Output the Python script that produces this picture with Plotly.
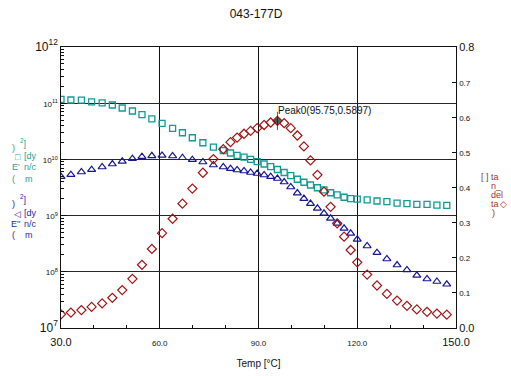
import plotly.graph_objects as go

# ---------------- data ----------------
temps = [30.0, 33.0, 36.2, 39.3, 42.5, 45.6, 48.6, 51.7, 54.6, 57.6, 60.7, 63.9, 66.9, 69.9, 73.1, 76.3, 79.3,
         81.5, 83.5, 85.6, 87.6, 89.6, 91.7, 93.7, 95.75, 97.8, 99.8, 101.8, 103.8, 105.8, 107.9, 109.9, 111.9,
         113.9, 116.0, 118.0, 120.0,
         123.0, 126.0, 129.0, 132.1, 135.1, 138.1, 141.2, 144.2, 147.2]

e_storage = [1.17e11, 1.14e11, 1.13e11, 1.06e11, 1.01e11, 9.29e10, 8.22e10, 7.27e10, 6.24e10, 5.24e10, 4.39e10,
             3.57e10, 2.98e10, 2.43e10, 1.98e10, 1.66e10, 1.44e10,
             1.30e10, 1.18e10, 1.10e10, 1.00e10, 9.10e9, 8.28e9, 7.41e9, 6.61e9, 5.85e9, 5.13e9, 4.43e9, 3.92e9,
             3.50e9, 3.13e9, 2.86e9, 2.55e9, 2.33e9, 2.12e9, 2.00e9, 1.97e9,
             1.90e9, 1.82e9, 1.77e9, 1.67e9, 1.63e9, 1.59e9, 1.59e9, 1.54e9, 1.52e9]

e_loss = [4.92e9, 5.34e9, 5.97e9, 6.56e9, 7.33e9, 8.28e9, 9.25e9, 1.03e10, 1.12e10, 1.16e10, 1.18e10, 1.15e10,
          1.07e10, 9.88e9, 8.99e9, 7.95e9, 7.33e9,
          6.83e9, 6.48e9, 6.22e9, 5.85e9, 5.61e9, 5.28e9, 4.92e9, 4.57e9, 3.96e9, 3.23e9, 2.52e9, 2.01e9,
          1.64e9, 1.35e9, 1.10e9, 8.95e8, 7.29e8, 5.94e8, 4.84e8, 3.79e8,
          2.88e8, 2.19e8, 1.69e8, 1.32e8, 1.08e8, 8.66e7, 7.45e7, 6.72e7, 6.00e7]

tan_delta = [0.039, 0.044, 0.051, 0.060, 0.070, 0.086, 0.108, 0.140, 0.180, 0.225, 0.270, 0.311, 0.354, 0.397,
             0.442, 0.481, 0.509,
             0.529, 0.542, 0.553, 0.561, 0.569, 0.578, 0.585, 0.5897, 0.583, 0.569, 0.548, 0.517, 0.477, 0.436,
             0.388, 0.345, 0.298, 0.260, 0.222, 0.187,
             0.152, 0.121, 0.097, 0.078, 0.063, 0.053, 0.046, 0.041, 0.038]

x_ticks = [30, 60, 90, 120, 150]
y_exps = [7, 8, 9, 10, 11, 12]
y2_ticks = [0.0, 0.1, 0.2, 0.3, 0.4, 0.5, 0.6, 0.7, 0.8]
title_text = "043-177D"
x_title = "Temp [°C]"

# ---------------- style ----------------
TEAL = "#139a95"
NAVY = "#16168e"
RED = "#a01414"
TEAL_T = "#2f9c98"
NAVY_T = "#2a2a9c"
RED_T = "#a03434"
INK = "#111111"
FONT = "Arial, Liberation Sans, sans-serif"

W, H = 511, 376
L, R, T, B = 61, 456, 47, 328


def px(x, y):
    return (x - L) / (R - L), (B - y) / (B - T)


def sized(txt, s):
    return f'<span style="font-size:{s}px">{txt}</span>'


fig = go.Figure()

fig.add_trace(go.Scatter(x=temps, y=e_storage, mode="markers", name="E'",
                         marker=dict(symbol="square-open", size=6, color=TEAL, line=dict(width=1.3, color=TEAL))))
fig.add_trace(go.Scatter(x=temps, y=e_loss, mode="markers", name="E''",
                         marker=dict(symbol="triangle-up-open", size=7, color=NAVY, line=dict(width=1.2, color=NAVY))))
fig.add_trace(go.Scatter(x=temps, y=tan_delta, mode="markers", name="tan_delta", yaxis="y2",
                         marker=dict(symbol="diamond-open", size=7, color=RED, line=dict(width=1.2, color=RED))))

# peak marker
pk = max(range(len(tan_delta)), key=lambda i: tan_delta[i])
pkx, pky = temps[pk], tan_delta[pk]
fig.add_trace(go.Scatter(x=[pkx, pkx], y=[pky, pky], mode="markers", yaxis="y2",
                         marker=dict(symbol=["line-ns-open", "diamond"], size=[13, 5], color=INK,
                                     line=dict(width=1, color=INK))))

xt = [sized(f"{v:.1f}", 11 if v in (x_ticks[0], x_ticks[-1]) else 8) for v in x_ticks]
yt = [sized(f"10<sup>{e}</sup>", 12 if e in (y_exps[0], y_exps[-1]) else 8) for e in y_exps]
y2t = [sized(f"{v:.1f}", 11 if v in (y2_ticks[0], y2_ticks[-1]) else 8) for v in y2_ticks]

fig.update_layout(
    width=W, height=H,
    margin=dict(l=L, r=W - R, t=T, b=H - B, pad=0),
    paper_bgcolor="white", plot_bgcolor="white",
    showlegend=False,
    font=dict(family=FONT, size=10, color=INK),
    title=dict(text=title_text, x=256 / W, xanchor="center", y=1 - 14 / H, yanchor="middle",
               font=dict(size=12, color=INK)),
    xaxis=dict(range=[30, 150], tickvals=x_ticks, ticktext=xt, showgrid=True, gridcolor=INK, gridwidth=1,
               zeroline=False, showline=True, linecolor=INK, linewidth=1.3, mirror=True, automargin=False,
               ticks="inside", ticklen=5, tickcolor=INK, ticklabelstandoff=5,
               tickfont=dict(size=10, color=INK),
               minor=dict(dtick=10, ticks="inside", ticklen=3, tickcolor=INK, showgrid=False),
               title=dict(text=x_title, font=dict(size=10, color=INK), standoff=12)),
    yaxis=dict(type="log", range=[7, 12], tickvals=[10 ** e for e in y_exps], ticktext=yt,
               showgrid=True, gridcolor="#262626", gridwidth=1, zeroline=False, automargin=False,
               showline=True, linecolor=INK, linewidth=1.3, mirror=True,
               ticks="inside", ticklen=6, tickcolor=INK, tickfont=dict(size=10, color=INK),
               minor=dict(dtick="D1", ticks="inside", ticklen=3, tickcolor=INK, showgrid=False)),
    yaxis2=dict(range=[0, 0.8], overlaying="y", side="right", tickvals=y2_ticks, ticktext=y2t,
                showgrid=False, zeroline=False, showline=True, linecolor=INK, linewidth=1.3, automargin=False,
                ticks="inside", ticklen=4, tickcolor=INK, tickfont=dict(size=10, color=INK)),
)

fig.add_annotation(x=pkx, y=pky, xref="x", yref="y2", text=f"Peak0({pkx:.2f},{pky:.4f})",
                   showarrow=False, xanchor="left", yanchor="bottom", xshift=-1, yshift=3,
                   font=dict(size=10, color=INK))

# side labels (wrapped axis titles, as in the reference)
side = [
    # teal (E')
    (9.5, 148, ")", TEAL_T), (18, 143, "<sup>2</sup>]", TEAL_T),
    (12.5, 157, "□", TEAL_T), (21.5, 156, "[dy", TEAL_T),
    (9.5, 167, "E'", TEAL_T), (21.5, 167, "n/c", TEAL_T),
    (9.5, 179, "(", TEAL_T), (22.5, 179, "m", TEAL_T),
    # navy (E'')
    (9.5, 204, ")", NAVY_T), (18, 199, "<sup>2</sup>]", NAVY_T),
    (12, 214, "◁", NAVY_T), (21.5, 212.5, "[dy", NAVY_T),
    (8.5, 224, "E''", NAVY_T), (21.5, 223.5, "n/c", NAVY_T),
    (9.5, 235, "(", NAVY_T), (22.5, 235, "m", NAVY_T),
    # red (tan delta)
    (479, 176.5, "[ ] ta", RED_T), (489, 185.5, "n_", RED_T), (489, 195, "del", RED_T),
    (489, 203.5, "ta", RED_T), (498.5, 203.5, "◇", RED_T), (490, 212.5, ")", RED_T),
]
for x, y, t, c in side:
    xp, yp = px(x, y)
    fig.add_annotation(x=xp, y=yp, xref="paper", yref="paper", text=t, showarrow=False,
                       xanchor="left", yanchor="middle", font=dict(size=9, color=c))

fig.write_html("out.html")
